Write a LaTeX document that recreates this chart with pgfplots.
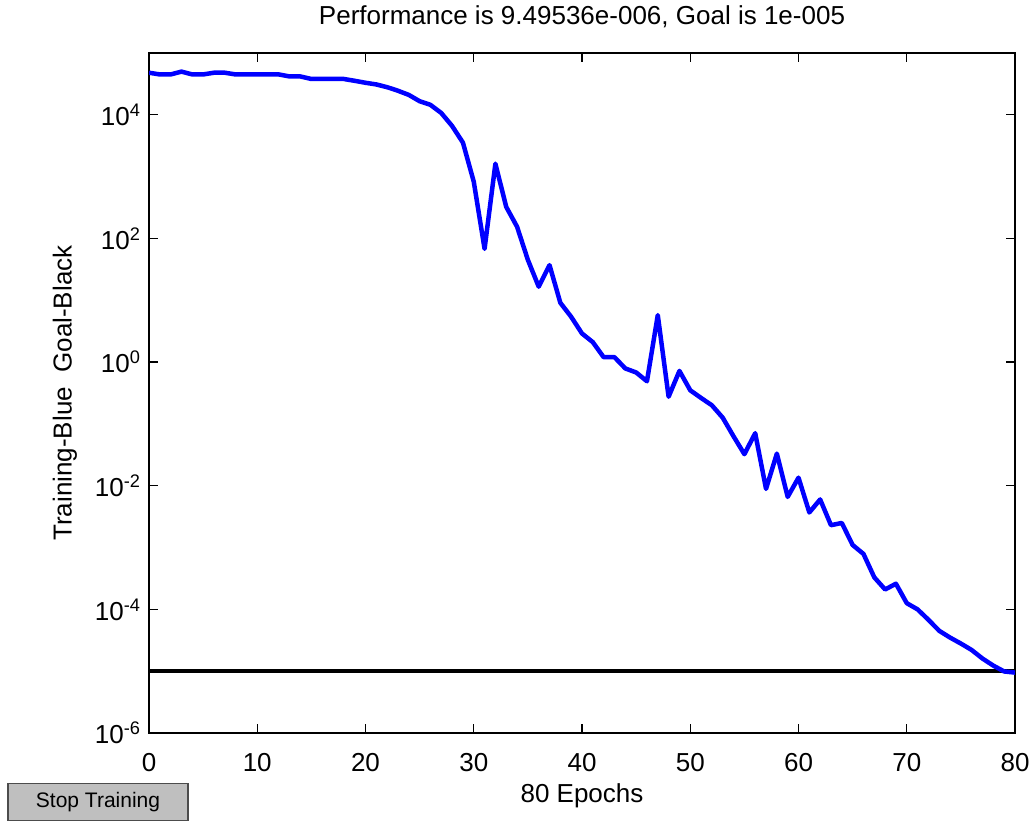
\documentclass[border=0pt]{standalone}
\usepackage{pgfplots}
\pgfplotsset{compat=1.18}
\usepackage{fontspec}
\setmainfont{Liberation Sans}
\begin{document}
\begin{tikzpicture}[x=1bp,y=1bp]
\useasboundingbox (0,0) rectangle (1033,-821);
\begin{axis}[
  at={(149bp,-733bp)}, anchor=south west,
  scale only axis, width=866bp, height=680bp,
  xmin=0, xmax=80, ymode=log, ymin=1e-6, ymax=1e5,
  axis line style={line width=1.3bp, black},
  tick style={line width=1.3bp, black},
  major tick length=9bp,
  tick align=inside, xtick pos=both, ytick pos=both,
  xtick={0,10,...,80},
  xticklabels={0,10,20,30,40,50,60,70,80},
  ytick={1e-6,1e-4,1e-2,1,1e2,1e4},
  yticklabels={10\textsuperscript{-6},10\textsuperscript{-4},10\textsuperscript{-2},10\textsuperscript{0},10\textsuperscript{2},10\textsuperscript{4}},
  minor tick num=0, log ticks with fixed point=false,
  yminorticks=false,
  tick label style={font=\fontsize{26bp}{30bp}\selectfont},
  xticklabel style={yshift=-17bp},
  yticklabel style={xshift=-5bp},
  title={Performance is 9.49536e-006, Goal is 1e-005},
  title style={font=\fontsize{26bp}{30bp}\selectfont, at={(axis description cs:0.5,1)}, anchor=center, yshift=30bp},
  xlabel={80 Epochs},
  xlabel style={font=\fontsize{26bp}{30bp}\selectfont, at={(axis description cs:0.5,0)}, anchor=center, yshift=-63bp},
  ylabel={Training-Blue\ \ Goal-Black},
  ylabel style={font=\fontsize{26bp}{30bp}\selectfont, at={(axis description cs:-0.097,0.5)}, anchor=center},
  clip=true,
]
\addplot [black, line width=4bp] coordinates {(0,1e-5) (80,1e-5)};
\addplot [blue, line width=4.5bp, line join=round] coordinates {
(0,4.8e4) (1,4.5e4) (2,4.5e4) (3,5.0e4) (4,4.5e4) (5,4.5e4) (6,4.8e4) (7,4.8e4) (8,4.5e4) (9,4.5e4)
(10,4.5e4) (11,4.5e4) (12,4.5e4) (13,4.17e4) (14,4.17e4) (15,3.8e4) (16,3.8e4) (17,3.8e4) (18,3.8e4) (19,3.55e4)
(20,3.3e4) (21,3.1e4) (22,2.8e4) (23,2.45e4) (24,2.1e4) (25,1.66e4) (26,1.45e4) (27,1.07e4) (28,6600) (29,3550)
(30,830) (31,68) (32,1620) (33,324) (34,155) (35,45) (36,16.6) (37,37) (38,9.1) (39,5.4)
(40,2.9) (41,2.1) (42,1.2) (43,1.2) (44,0.79) (45,0.68) (46,0.49) (47,5.75) (48,0.275) (49,0.72)
(50,0.35) (51,0.263) (52,0.2) (53,0.126) (54,0.063) (55,0.0324) (56,0.0708) (57,0.0089) (58,0.0331) (59,0.0066)
(60,0.0135) (61,0.0037) (62,0.006) (63,0.0023) (64,0.0025) (65,0.0011) (66,0.00079) (67,0.00033) (68,0.00021) (69,0.00026)
(70,0.000126) (71,0.0001) (72,6.8e-5) (73,4.5e-5) (74,3.5e-5) (75,2.8e-5) (76,2.2e-5) (77,1.6e-5) (78,1.23e-5) (79,9.9e-6)
(80,9.495e-6)};
\end{axis}
\node[draw=gray!60!black, fill=gray!50, line width=1.2bp, minimum width=180bp, minimum height=37bp, inner sep=0pt,
  font=\fontsize{21bp}{24bp}\selectfont] at (98bp,-802bp) {Stop Training};
\end{tikzpicture}
\end{document}
